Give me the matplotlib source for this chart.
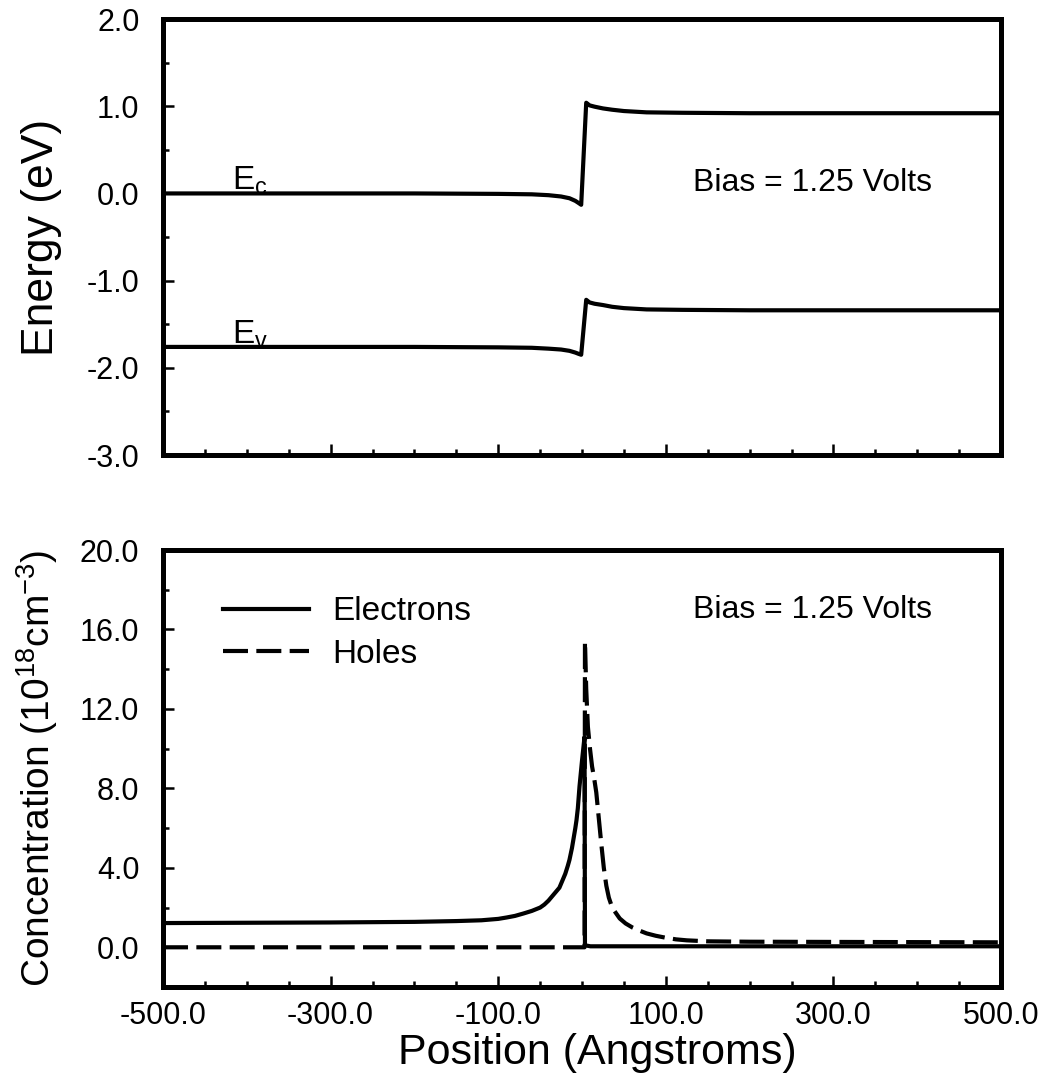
import matplotlib
matplotlib.use('Agg')
import matplotlib.pyplot as plt
from matplotlib.ticker import MultipleLocator, FormatStrFormatter, FixedLocator

plt.rcParams['font.family'] = ['Liberation Sans', 'DejaVu Sans']
plt.rcParams['mathtext.default'] = 'regular'

# band edges (eV) vs position (Angstroms)
band_x = [-500, -300, -200, -100, -60, -40, -25, -15, -8, -4, -1, 5, 9, 15, 25, 36, 50, 77, 120, 200, 500]
ec = [0.0, 0.0, 0.0, -0.005, -0.01, -0.02, -0.035, -0.055, -0.085, -0.11, -0.13,
      1.04, 1.01, 0.995, 0.975, 0.96, 0.945, 0.93, 0.925, 0.92, 0.92]
ev = [-1.76, -1.76, -1.76, -1.765, -1.77, -1.78, -1.79, -1.805, -1.825, -1.84, -1.85,
      -1.22, -1.25, -1.265, -1.28, -1.30, -1.315, -1.33, -1.335, -1.34, -1.34]

# carrier concentrations (1e18 cm^-3)
elec_x = [-500, -300, -200, -150, -120, -100, -90, -80, -70, -60, -50, -45, -40, -35, -30,
          -27, -24, -20, -17, -15, -12, -10, -8, -6.6, -5, -3, 0, 3, 3.5, 10, 120, 500]
electrons = [1.22, 1.25, 1.28, 1.32, 1.36, 1.43, 1.5, 1.58, 1.7, 1.83, 2.0, 2.15, 2.35, 2.6, 2.85,
             3.0, 3.3, 3.7, 4.1, 4.4, 5.0, 5.5, 6.0, 6.4, 7.0, 8.1, 9.4, 10.6, 0.1, 0.05, 0.05, 0.05]
hole_x = [-500, 3, 3.5, 5, 7, 9.5, 12, 14.5, 17, 20, 23, 26, 29, 32, 36, 40, 45, 52, 60, 68,
          77, 88, 100, 112, 125, 150, 200, 500]
holes = [0.0, 0.0, 15.4, 13.0, 11.1, 10.0, 9.1, 8.5, 7.8, 6.5, 5.2, 4.0, 3.1, 2.5, 2.0, 1.75,
         1.45, 1.2, 1.0, 0.85, 0.7, 0.58, 0.48, 0.4, 0.35, 0.3, 0.28, 0.25]

x_ticks = [-500, -300, -100, 100, 300, 500]

fig = plt.figure(figsize=(10.47, 10.76), dpi=100)
ax1 = fig.add_axes([0.1557, 0.5771, 0.8004, 0.4052])
ax2 = fig.add_axes([0.1557, 0.0827, 0.8004, 0.4061])

lw = 3.0
ax1.plot(band_x, ec, color='black', lw=lw)
ax1.plot(band_x, ev, color='black', lw=lw)
ax1.text(-418, 0.04, 'E$_c$', fontsize=24)
ax1.text(-418, -1.72, 'E$_v$', fontsize=24)
ax1.text(132, 0.12, 'Bias = 1.25 Volts', fontsize=23, va='center')
ax1.set_ylim(-3, 2)
ax1.yaxis.set_major_locator(MultipleLocator(1.0))
ax1.yaxis.set_minor_locator(MultipleLocator(0.5))
ax1.set_ylabel('Energy (eV)', fontsize=32, labelpad=18)
ax1.tick_params(axis='x', which='both', labelbottom=False)

ax2.plot(elec_x, electrons, color='black', lw=lw, label='Electrons')
ax2.plot(hole_x, holes, color='black', lw=lw, dashes=(6, 2), label='Holes')
ax2.text(132, 17.0, 'Bias = 1.25 Volts', fontsize=23, va='center')
ax2.set_ylim(-2, 20)
ax2.yaxis.set_major_locator(FixedLocator([0, 4, 8, 12, 16, 20]))
ax2.yaxis.set_minor_locator(MultipleLocator(2.0))
ax2.set_ylabel('Concentration (10$^{18}$cm$^{-3}$)', fontsize=28, labelpad=14)
ax2.set_xlabel('Position (Angstroms)', fontsize=31, labelpad=2)
ax2.xaxis.set_label_coords(0.518, -0.105)
ax2.legend(loc='upper left', bbox_to_anchor=(0.071, 0.894), frameon=False, fontsize=24,
           borderaxespad=0, borderpad=0, handlelength=2.6, handletextpad=0.7, labelspacing=0.35)

for ax in (ax1, ax2):
    ax.set_xlim(-500, 500)
    ax.xaxis.set_major_locator(FixedLocator(x_ticks))
    ax.xaxis.set_minor_locator(MultipleLocator(50))
    ax.xaxis.set_major_formatter(FormatStrFormatter('%.1f'))
    ax.yaxis.set_major_formatter(FormatStrFormatter('%.1f'))
    for s in ax.spines.values():
        s.set_linewidth(3.6)
    ax.tick_params(which='both', direction='in', top=False, right=False, width=1.8)
    ax.tick_params(which='major', length=8, labelsize=22, pad=17)
    ax.tick_params(axis='x', which='major', pad=10)
    ax.tick_params(which='minor', length=4.5)

plt.savefig('out.png', dpi=100)
